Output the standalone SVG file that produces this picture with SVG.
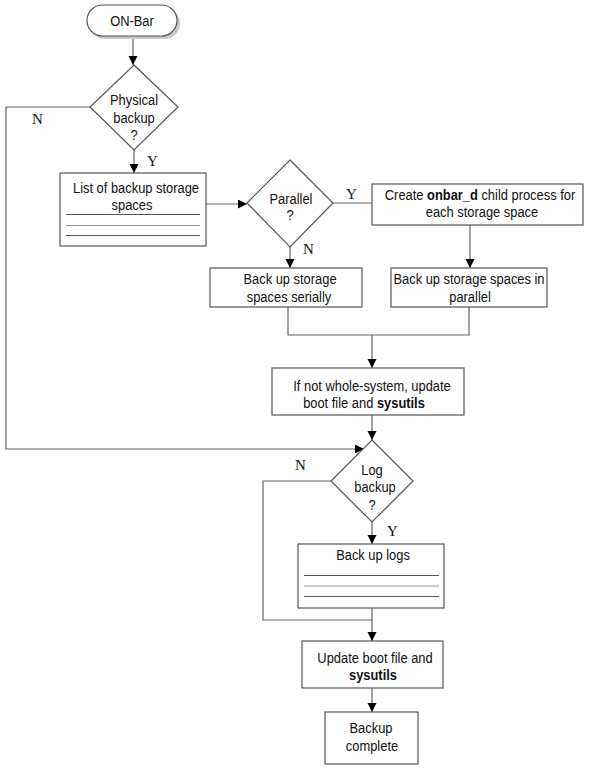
<svg xmlns="http://www.w3.org/2000/svg" width="590" height="770" viewBox="0 0 590 770">
<defs>
<marker id="arr" markerUnits="userSpaceOnUse" markerWidth="10" markerHeight="10" refX="9" refY="4.5" orient="auto">
<path d="M0,0 L9,4.5 L0,9 z" fill="#000"/>
</marker>
<style>
.bx{fill:#fff;stroke:#555;stroke-width:1.2}
.ln{fill:none;stroke:#666;stroke-width:1.2}
.rl{stroke:#555;stroke-width:1}
.rl2{stroke:#999;stroke-width:1}
.t{font-family:"Liberation Sans",Arial,sans-serif;font-size:15px;fill:#111;text-anchor:middle}
.b{font-weight:bold}
.yn{font-family:"Liberation Serif","Times New Roman",serif;font-size:15px;fill:#111}
</style>
</defs>
<rect width="590" height="770" fill="#fff"/>
<g id="connectors">
<line class="ln" x1="133" y1="37" x2="133" y2="65" marker-end="url(#arr)"/>
<polyline class="ln" points="90,107 6,107 6,449 364,449" marker-end="url(#arr)"/>
<line class="ln" x1="134" y1="150" x2="134" y2="173" marker-end="url(#arr)"/>
<line class="ln" x1="206" y1="204" x2="247" y2="204" marker-end="url(#arr)"/>
<line class="ln" x1="333" y1="203" x2="372" y2="203"/>
<line class="ln" x1="290" y1="247" x2="290" y2="268" marker-end="url(#arr)"/>
<line class="ln" x1="470" y1="225" x2="470" y2="268" marker-end="url(#arr)"/>
<polyline class="ln" points="288,307 288,335 469,335 469,307"/>
<line class="ln" x1="372" y1="335" x2="372" y2="368" marker-end="url(#arr)"/>
<line class="ln" x1="372" y1="415" x2="372" y2="440" marker-end="url(#arr)"/>
<line class="ln" x1="372" y1="522" x2="372" y2="544" marker-end="url(#arr)"/>
<polyline class="ln" points="331,481 263,481 263,620 372,620"/>
<line class="ln" x1="372" y1="608" x2="372" y2="641" marker-end="url(#arr)"/>
<line class="ln" x1="372" y1="688" x2="372" y2="712" marker-end="url(#arr)"/>
<text class="yn" x="32" y="124">N</text>
<text class="yn" x="147" y="166">Y</text>
<text class="yn" x="346" y="199">Y</text>
<text class="yn" x="303" y="254">N</text>
<text class="yn" x="295" y="470">N</text>
<text class="yn" x="387" y="536">Y</text>
</g>
<g id="start">
<rect x="90" y="8" width="90" height="31" rx="15.5" fill="#c8c8c8"/>
<rect class="bx" x="87" y="5" width="90" height="31" rx="15.5"/>
<text class="t" transform="translate(132,26) scale(0.86,1)">ON-Bar</text>
</g>
<g id="physical">
<polygon class="bx" points="134,65 178,107 134,150 90,107"/>
<text class="t" transform="translate(134,105) scale(0.86,1)">Physical</text>
<text class="t" transform="translate(134,123) scale(0.86,1)">backup</text>
<text class="t" transform="translate(134,140) scale(0.86,1)">?</text>
</g>
<g id="list">
<rect class="bx" x="60" y="173" width="146" height="73"/>
<text class="t" transform="translate(136,193) scale(0.86,1)">List of backup storage</text>
<text class="t" transform="translate(132,210) scale(0.86,1)">spaces</text>
<line class="rl" x1="66" y1="214.5" x2="200" y2="214.5"/>
<line class="rl2" x1="66" y1="225.5" x2="200" y2="225.5"/>
<line class="rl" x1="66" y1="235.5" x2="200" y2="235.5"/>
</g>
<g id="parallel">
<polygon class="bx" points="290,160 333,203 290,247 247,203"/>
<text class="t" transform="translate(291,204) scale(0.86,1)">Parallel</text>
<text class="t" transform="translate(290,220) scale(0.86,1)">?</text>
</g>
<g id="create">
<rect class="bx" x="372" y="184" width="211" height="41"/>
<text class="t" transform="translate(480,200) scale(0.86,1)">Create <tspan class="b">onbar_d</tspan> child process for</text>
<text class="t" transform="translate(482,217) scale(0.86,1)">each storage space</text>
</g>
<g id="serial">
<rect class="bx" x="210" y="268" width="152" height="39"/>
<text class="t" transform="translate(290,284) scale(0.86,1)">Back up storage</text>
<text class="t" transform="translate(289,302) scale(0.86,1)">spaces serially</text>
</g>
<g id="parback">
<rect class="bx" x="391" y="268" width="156" height="39"/>
<text class="t" transform="translate(469,284) scale(0.86,1)">Back up storage spaces in</text>
<text class="t" transform="translate(470,302) scale(0.86,1)">parallel</text>
</g>
<g id="ifnot">
<rect class="bx" x="272" y="368" width="192" height="47"/>
<text class="t" transform="translate(372,391) scale(0.86,1)">If not whole-system, update</text>
<text class="t" transform="translate(364,408) scale(0.86,1)">boot file and <tspan class="b">sysutils</tspan></text>
</g>
<g id="log">
<polygon class="bx" points="372,440 413,481 372,522 331,481"/>
<text class="t" transform="translate(372,475) scale(0.86,1)">Log</text>
<text class="t" transform="translate(375,492) scale(0.86,1)">backup</text>
<text class="t" transform="translate(372,510) scale(0.86,1)">?</text>
</g>
<g id="logs">
<rect class="bx" x="298" y="544" width="146" height="64"/>
<text class="t" transform="translate(373,560) scale(0.86,1)">Back up logs</text>
<line class="rl" x1="304" y1="575.5" x2="439" y2="575.5"/>
<line class="rl2" x1="304" y1="586" x2="439" y2="586"/>
<line class="rl" x1="304" y1="596.5" x2="439" y2="596.5"/>
</g>
<g id="update">
<rect class="bx" x="302" y="641" width="141" height="47"/>
<text class="t" transform="translate(375,663) scale(0.86,1)">Update boot file and</text>
<text class="t b" transform="translate(373,680) scale(0.86,1)">sysutils</text>
</g>
<g id="complete">
<rect class="bx" x="325" y="712" width="93" height="52"/>
<text class="t" transform="translate(371,733) scale(0.86,1)">Backup</text>
<text class="t" transform="translate(372,751) scale(0.86,1)">complete</text>
</g>
</svg>
